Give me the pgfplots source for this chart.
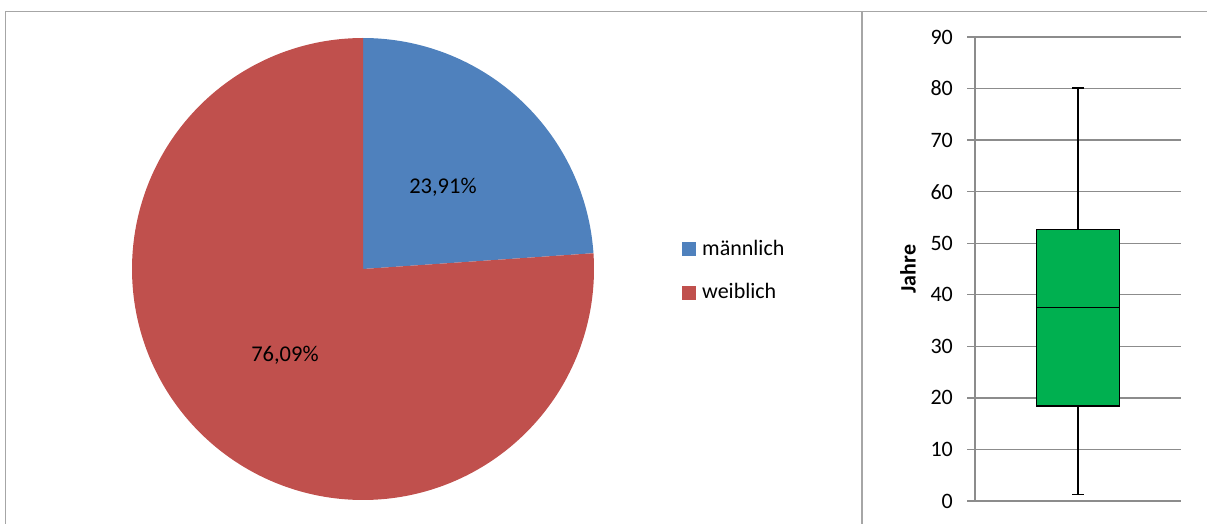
\documentclass[border=0pt]{standalone}
\usepackage{pgfplots}
\pgfplotsset{compat=1.18}
\usepgfplotslibrary{statistics}
\usepackage{fontspec}
\setmainfont{Carlito}
\definecolor{mblue}{HTML}{4F81BD}
\definecolor{wred}{HTML}{C0504D}
\definecolor{bgreen}{HTML}{00B050}
\definecolor{gridgray}{HTML}{8C8C8C}
\definecolor{framegray}{HTML}{A6A6A6}
% data
\def\maennlich{23.91}
\def\weiblich{76.09}
\begin{document}
\fontsize{22pt}{26pt}\selectfont
\begin{tikzpicture}
\useasboundingbox (0pt,0pt) rectangle (1207pt,523pt);
\draw[framegray, line width=1.5pt] (5.5pt,-5pt) -- (5.5pt,511.5pt) -- (862pt,511.5pt) -- (862pt,-5pt);
\draw[framegray, line width=1.5pt] (862pt,511.5pt) -- (1215pt,511.5pt);

% ---------- pie ----------
\begin{axis}[
  at={(363pt,254pt)}, anchor=center,
  scale only axis, width=462pt, height=462pt,
  xmin=-1, xmax=1, ymin=-1, ymax=1,
  hide axis, clip=false,
  legend style={at={(axis cs:1.381,-0.009)}, anchor=west, draw=none, fill=none,
    inner sep=0pt, row sep=25pt, font=\fontsize{22pt}{26pt}\selectfont,
    cells={anchor=west}, nodes={inner sep=0pt}},
  legend image code/.code={\fill (0pt,-7pt) rectangle (14pt,7pt);},
  legend cell align=left,
]
\addplot[fill=mblue, draw=none, samples=200, domain={90-3.6*\maennlich}:90]
  ({cos(x)},{sin(x)}) -- (axis cs:0,0) -- cycle;
\addlegendentry{\hspace{6pt}männlich}
\addplot[fill=wred, draw=none, samples=300, domain={90-360}:{90-3.6*\maennlich}]
  ({cos(x)},{sin(x)}) -- (axis cs:0,0) -- cycle;
\addlegendentry{\hspace{6pt}weiblich}
\node[font=\fontsize{22.5pt}{26pt}\selectfont] at (axis cs:0.346,0.355) {23,91\%};
\node[font=\fontsize{22.5pt}{26pt}\selectfont] at (axis cs:-0.338,-0.372) {76,09\%};
\end{axis}

% ---------- box plot ----------
\begin{axis}[
  at={(975pt,22pt)}, anchor=south west,
  scale only axis, width=206pt, height=464pt,
  xmin=0, xmax=2, ymin=0, ymax=90,
  ytick={0,10,...,90}, xtick=\empty,
  axis x line=none, axis y line*=left,
  axis line style={gridgray, line width=1.3pt, -},
  ymajorgrids, grid style={gridgray, line width=1.3pt},
  tick align=outside, major tick length=8pt,
  tick style={gridgray, line width=1.3pt},
  yticklabel style={inner sep=0pt, anchor=east, xshift=-14pt, font=\fontsize{22pt}{26pt}\selectfont},
  /pgf/number format/assume math mode=true,
  ylabel={\textbf{Jahre}},
  every axis y label/.style={at={(axis description cs:-0.325,0.5)}, rotate=90, anchor=center, font=\fontsize{22pt}{26pt}\selectfont},
  boxplot/draw direction=y,
]
\addplot+[boxplot prepared={draw position=1, box extend=0.8, whisker extend=0.11,
    lower whisker=1.3, lower quartile=18.4, median=37.5,
    upper quartile=52.7, upper whisker=80.1},
  fill=bgreen, draw=black, line width=1.3pt, solid, mark=none] coordinates {};
\end{axis}
\end{tikzpicture}
\end{document}
